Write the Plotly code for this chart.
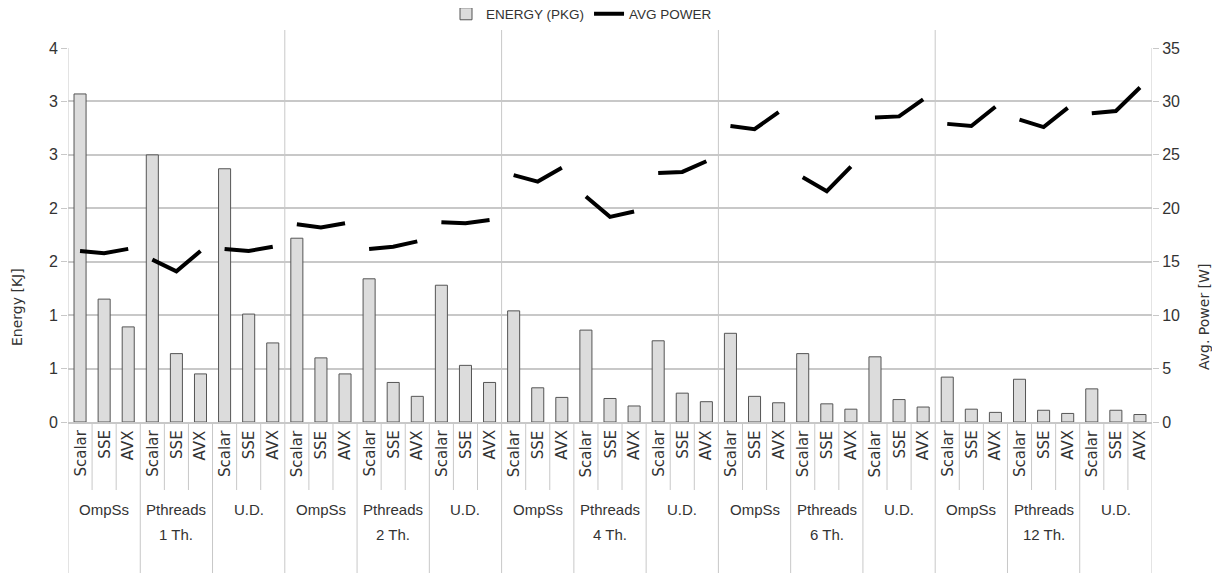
import plotly.graph_objects as go

# ---------------- data ----------------
threads = ["1 Th.", "2 Th.", "4 Th.", "6 Th.", "12 Th."]
frameworks = ["OmpSs", "Pthreads", "U.D."]
simd = ["Scalar", "SSE", "AVX"]

# Energy (PKG) in KJ, order: OmpSs(Scalar,SSE,AVX), Pthreads(...), U.D.(...)
energy_1th = [3.07, 1.15, 0.89, 2.50, 0.64, 0.45, 2.37, 1.01, 0.74]
energy_2th = [1.72, 0.60, 0.45, 1.34, 0.37, 0.24, 1.28, 0.53, 0.37]
energy_4th = [1.04, 0.32, 0.23, 0.86, 0.22, 0.15, 0.76, 0.27, 0.19]
energy_6th = [0.83, 0.24, 0.18, 0.64, 0.17, 0.12, 0.61, 0.21, 0.14]
energy_12th = [0.42, 0.12, 0.09, 0.40, 0.11, 0.08, 0.31, 0.11, 0.07]

# Average power in W
power_1th = [16.0, 15.8, 16.2, 15.2, 14.1, 16.0, 16.2, 16.0, 16.4]
power_2th = [18.5, 18.2, 18.6, 16.2, 16.4, 16.9, 18.7, 18.6, 18.9]
power_4th = [23.1, 22.5, 23.8, 21.1, 19.2, 19.7, 23.3, 23.4, 24.4]
power_6th = [27.7, 27.4, 29.0, 22.9, 21.6, 23.9, 28.5, 28.6, 30.2]
power_12th = [27.9, 27.7, 29.5, 28.3, 27.6, 29.4, 28.9, 29.1, 31.3]

energy_groups = [energy_1th, energy_2th, energy_4th, energy_6th, energy_12th]
power_groups = [power_1th, power_2th, power_4th, power_6th, power_12th]

energy_ticks = [0, 0.5, 1, 1.5, 2, 2.5, 3, 3.5]
energy_ticktext = ["0", "1", "1", "2", "2", "3", "3", "4"]
power_ticks = [0, 5, 10, 15, 20, 25, 30, 35]

# ---------------- build ----------------
NARROW = "Liberation Sans Narrow, Liberation Sans, Arial, sans-serif"
WIDE = "DejaVu Sans, Verdana, sans-serif"
GRID = "#c8c8c8"
TXT = "#333333"

nS, nF = len(simd), len(frameworks)
per_group = nS * nF

bar_x, bar_y = [], []
line_x, line_y = [], []
for g, (eg, pg) in enumerate(zip(energy_groups, power_groups)):
    for f in range(nF):
        for s in range(nS):
            k = f * nS + s
            idx = g * per_group + k
            bar_x.append(idx)
            bar_y.append(eg[k])
            line_x.append(idx)
            line_y.append(pg[k])
        line_x.append(None)
        line_y.append(None)

fig = go.Figure()
fig.add_trace(go.Bar(
    x=bar_x, y=bar_y, name="ENERGY (PKG)", width=0.5,
    marker=dict(color="#dcdcdc", line=dict(color="#555555", width=1)),
    yaxis="y",
))
fig.add_trace(go.Scatter(
    x=line_x, y=line_y, name="AVG POWER", mode="lines",
    line=dict(color="black", width=4), connectgaps=False,
    yaxis="y2",
))

n_total = len(bar_x)
PLOT_W = 1084.0
PLOT_H = 374.0


def py(pix_below_axis):
    """paper y for a pixel offset below the x axis (positive = below)."""
    return -pix_below_axis / PLOT_H


shapes = []
annotations = []
ngroups = len(threads)
# group separators (extend above and below)
for g in range(ngroups + 1):
    xv = g * per_group - 0.5
    top = 1.0 if g in (0, ngroups) else 1 + 18 / PLOT_H
    shapes.append(dict(type="line", xref="x", yref="paper", x0=xv, x1=xv,
                       y0=py(151), y1=top, line=dict(color=GRID, width=1)))
for g in range(ngroups):
    for f in range(nF):
        if f > 0:
            xv = g * per_group + f * nS - 0.5
            shapes.append(dict(type="line", xref="x", yref="paper", x0=xv, x1=xv,
                               y0=py(151), y1=0, line=dict(color=GRID, width=1)))
        for s in range(1, nS):
            xv = g * per_group + f * nS + s - 0.5
            shapes.append(dict(type="line", xref="x", yref="paper", x0=xv, x1=xv,
                               y0=py(68), y1=0, line=dict(color=GRID, width=1)))

# simd labels
for g in range(ngroups):
    for f in range(nF):
        for s in range(nS):
            idx = g * per_group + f * nS + s
            annotations.append(dict(
                x=idx, y=py(6), xref="x", yref="paper", text=simd[s],
                showarrow=False, textangle=-90, xanchor="center", yanchor="top",
                font=dict(family=WIDE, size=15, color=TXT)))
        cx = g * per_group + f * nS + (nS - 1) / 2
        annotations.append(dict(
            x=cx, y=py(77), xref="x", yref="paper", text=frameworks[f],
            showarrow=False, xanchor="center", yanchor="top",
            font=dict(family=NARROW, size=15, color=TXT)))
        if f == 1:
            annotations.append(dict(
                x=cx, y=py(102), xref="x", yref="paper", text=threads[g],
                showarrow=False, xanchor="center", yanchor="top",
                font=dict(family=NARROW, size=15, color=TXT)))

# axis titles
annotations.append(dict(x=-51 / PLOT_W, y=(422 - 307) / PLOT_H, xref="paper", yref="paper",
                        text="Energy [KJ]", showarrow=False, textangle=-90,
                        xanchor="center", yanchor="middle",
                        font=dict(family=WIDE, size=14, color=TXT)))
annotations.append(dict(x=1 + 52 / PLOT_W, y=(422 - 317) / PLOT_H, xref="paper", yref="paper",
                        text="Avg. Power [W]", showarrow=False, textangle=-90,
                        xanchor="center", yanchor="middle",
                        font=dict(family=WIDE, size=14, color=TXT)))

# page body has an 8px default margin: size the figure so the drawing fits 1220x573
fig.update_layout(
    width=1212, height=565,
    margin=dict(l=60, r=68, t=40, b=151, autoexpand=False),
    paper_bgcolor="white", plot_bgcolor="white",
    showlegend=True,
    legend=dict(orientation="h", x=(446 - 68) / PLOT_W, xanchor="left",
                y=(422 - 14) / PLOT_H, yanchor="middle",
                font=dict(family=NARROW, size=13.5, color=TXT),
                bgcolor="rgba(0,0,0,0)", itemwidth=30, tracegroupgap=0),
    bargap=0.5,
    xaxis=dict(range=[-0.5, n_total - 0.5], showticklabels=False, ticks="",
               showgrid=False, zeroline=False, showline=True, linecolor=GRID,
               linewidth=1.5),
    yaxis=dict(range=[0, 3.5], tickvals=energy_ticks, ticktext=energy_ticktext,
               showgrid=True, gridcolor=GRID, gridwidth=1.5, zeroline=False,
               ticks="outside", ticklen=6, tickcolor=GRID,
               tickfont=dict(family=NARROW, size=16, color=TXT), showline=False),
    yaxis2=dict(range=[0, 35], tickvals=power_ticks, overlaying="y", side="right",
                showgrid=False, zeroline=False, ticks="outside", ticklen=6,
                tickcolor=GRID, tickfont=dict(family=NARROW, size=16, color=TXT),
                showline=False),
    shapes=shapes,
    annotations=annotations,
)

fig.write_html("out.html")
